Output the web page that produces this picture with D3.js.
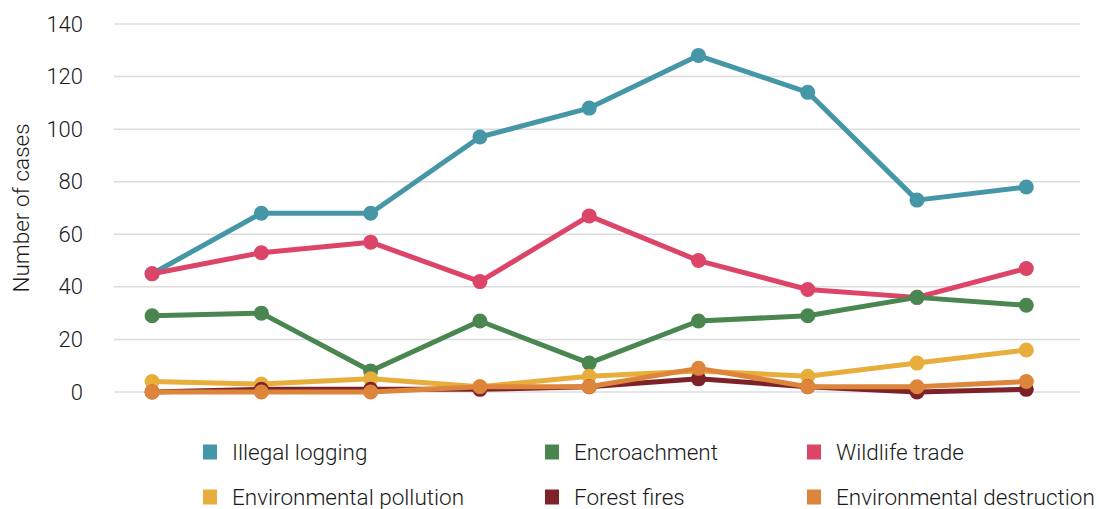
<!DOCTYPE html>
<html>
<head>
<meta charset="utf-8">
<script src="https://cdn.jsdelivr.net/npm/d3@7"></script>
<style>
  html, body { margin: 0; padding: 0; background: #fff; }
  svg { display: block; font-family: Roboto, "Noto Sans", sans-serif; font-weight: 300; }
</style>
</head>
<body>
<svg id="chart" width="1099" height="509"></svg>
<script>
// Nine observation periods (no axis labels shown)
const periods = [1, 2, 3, 4, 5, 6, 7, 8, 9];

const seriesNames = [
  "Illegal logging", "Encroachment", "Wildlife trade",
  "Environmental pollution", "Forest fires", "Environmental destruction"
];
const seriesColors = ["#4596a6", "#4a8650", "#dc4468", "#e8ae3c", "#7e2229", "#de853c"];

const illegalLogging = [45, 68, 68, 97, 108, 128, 114, 73, 78];
const encroachment   = [29, 30, 8, 27, 11, 27, 29, 36, 33];
const wildlifeTrade  = [45, 53, 57, 42, 67, 50, 39, 36, 47];
const pollution      = [4, 3, 5, 2, 6, 8, 6, 11, 16];
const forestFires    = [0, 1, 1, 1, 2, 5, 2, 0, 1];
const destruction    = [0, 0, 0, 2, 2, 9, 2, 2, 4];

const yTicks = [0, 20, 40, 60, 80, 100, 120, 140];

const seriesValues = [illegalLogging, encroachment, wildlifeTrade, pollution, forestFires, destruction];
// drawing order: lower series painted last so they sit on top
const drawOrder = [0, 2, 1, 3, 4, 5];

const svg = d3.select("#chart");
const plot = { left: 114, right: 1080, top: 24, bottom: 392 };

const x = d3.scalePoint()
  .domain(periods)
  .range([plot.left, plot.right])
  .padding(0.42)
  .align(0.415);

const y = d3.scaleLinear().domain([0, 140]).range([plot.bottom, plot.top]);

// horizontal grid
svg.append("g")
  .selectAll("line")
  .data(yTicks)
  .join("line")
  .attr("x1", plot.left).attr("x2", plot.right)
  .attr("y1", d => y(d)).attr("y2", d => y(d))
  .attr("stroke", "#dcdcdc")
  .attr("stroke-width", 1.5);

// y axis labels
const yAxis = d3.axisLeft(y).tickValues(yTicks).tickSize(0).tickPadding(0);
const ga = svg.append("g").attr("transform", `translate(83,0)`).call(yAxis);
ga.select(".domain").remove();
ga.selectAll("text")
  .attr("font-size", 22)
  .attr("fill", "#1a1a1a")
  .attr("font-family", "Roboto, sans-serif")
  .attr("font-weight", 300);

svg.append("text")
  .attr("transform", `translate(29,${(plot.top + plot.bottom) / 2}) rotate(-90)`)
  .attr("text-anchor", "middle")
  .attr("font-size", 22.5)
  .attr("fill", "#1a1a1a")
  .text("Number of cases");

const line = d3.line()
  .x((d, i) => x(periods[i]))
  .y(d => y(d));

drawOrder.forEach(k => {
  const g = svg.append("g");
  g.append("path")
    .datum(seriesValues[k])
    .attr("d", line)
    .attr("fill", "none")
    .attr("stroke", seriesColors[k])
    .attr("stroke-width", 5)
    .attr("stroke-linejoin", "round");
  g.selectAll("circle")
    .data(seriesValues[k])
    .join("circle")
    .attr("cx", (d, i) => x(periods[i]))
    .attr("cy", d => y(d))
    .attr("r", 7.5)
    .attr("fill", seriesColors[k]);
});

// legend: two rows of three
const legendCols = [203, 545, 807];
const legendRows = [452, 497];
const legend = svg.append("g");
seriesNames.forEach((name, i) => {
  const cx = legendCols[i % 3];
  const cy = legendRows[Math.floor(i / 3)];
  legend.append("rect")
    .attr("x", cx).attr("y", cy - 7.5)
    .attr("width", 14).attr("height", 15)
    .attr("fill", seriesColors[i]);
  legend.append("text")
    .attr("x", cx + 29).attr("y", cy)
    .attr("dy", "0.35em")
    .attr("font-size", 22.5)
    .attr("fill", "#1a1a1a")
    .text(name);
});
</script>
</body>
</html>
